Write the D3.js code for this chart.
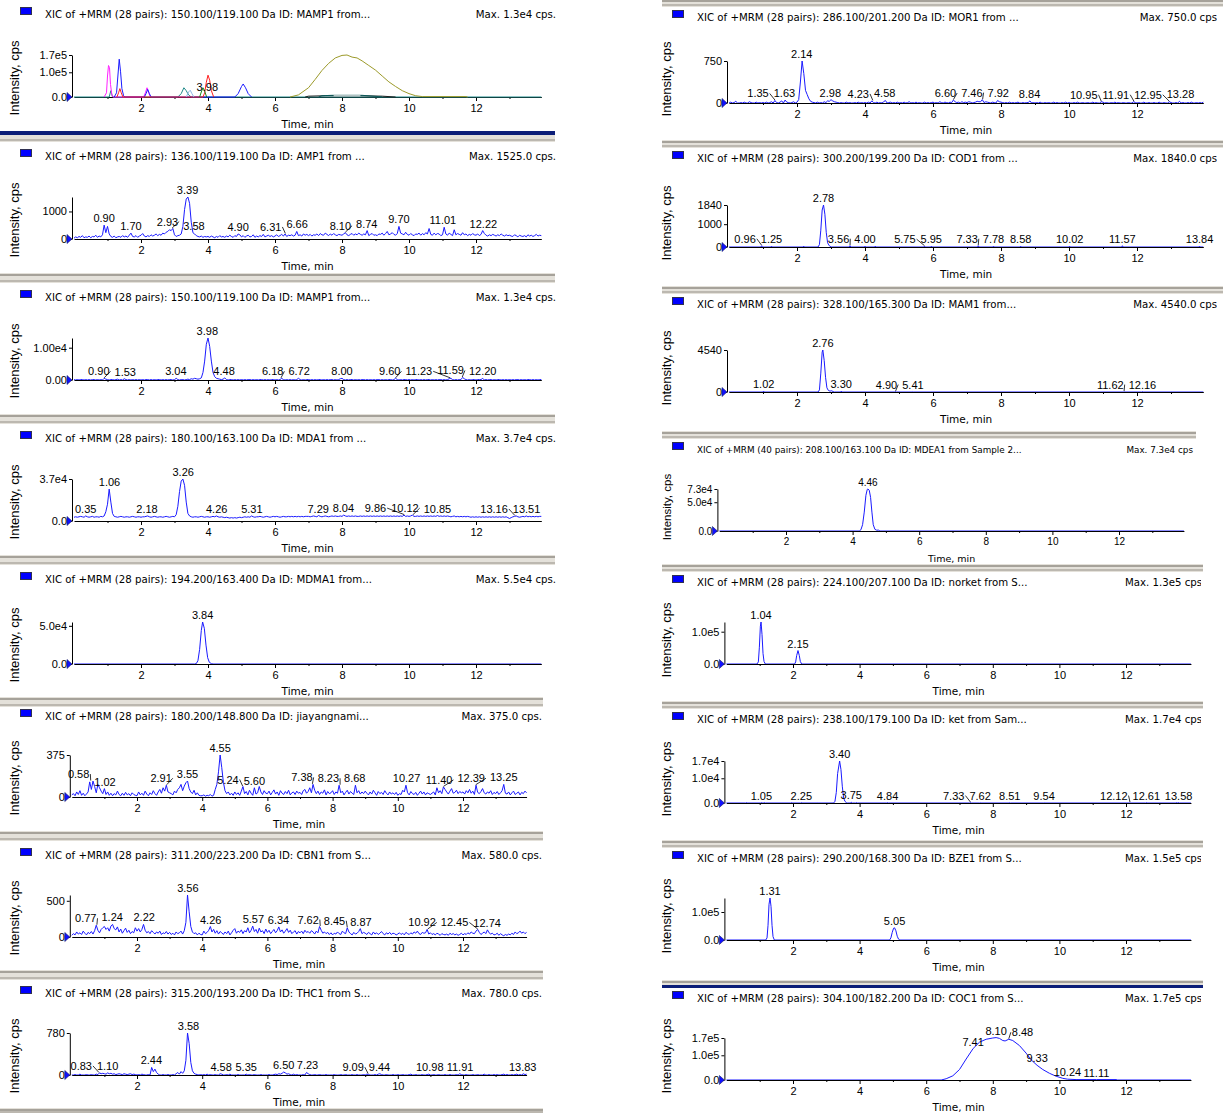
<!DOCTYPE html>
<html>
<head>
<meta charset="utf-8">
<script src="https://cdn.jsdelivr.net/npm/d3@7"></script>
<style>
body { margin: 0; background: #fff; }
svg { display: block; }
</style>
</head>
<body>
<svg id="chart" width="1223" height="1113"></svg>
<script>
// sampling step (min) of the dense traces
var STEP = 0.05;

// ---- panel titles ----
var titles = [
	"XIC of +MRM (28 pairs): 150.100/119.100 Da ID: MAMP1 from...",
	"XIC of +MRM (28 pairs): 136.100/119.100 Da ID: AMP1 from ...",
	"XIC of +MRM (28 pairs): 150.100/119.100 Da ID: MAMP1 from...",
	"XIC of +MRM (28 pairs): 180.100/163.100 Da ID: MDA1 from ...",
	"XIC of +MRM (28 pairs): 194.200/163.400 Da ID: MDMA1 from...",
	"XIC of +MRM (28 pairs): 180.200/148.800 Da ID: jiayangnami...",
	"XIC of +MRM (28 pairs): 311.200/223.200 Da ID: CBN1 from S...",
	"XIC of +MRM (28 pairs): 315.200/193.200 Da ID: THC1 from S...",
	"XIC of +MRM (28 pairs): 286.100/201.200 Da ID: MOR1 from ...",
	"XIC of +MRM (28 pairs): 300.200/199.200 Da ID: COD1 from ...",
	"XIC of +MRM (28 pairs): 328.100/165.300 Da ID: MAM1 from...",
	"XIC of +MRM (40 pairs): 208.100/163.100 Da ID: MDEA1 from Sample 2...",
	"XIC of +MRM (28 pairs): 224.100/207.100 Da ID: norket from S...",
	"XIC of +MRM (28 pairs): 238.100/179.100 Da ID: ket from Sam...",
	"XIC of +MRM (28 pairs): 290.200/168.300 Da ID: BZE1 from S...",
	"XIC of +MRM (28 pairs): 304.100/182.200 Da ID: COC1 from S..."
];
var maxTexts = ["Max. 1.3e4 cps.", "Max. 1525.0 cps.", "Max. 1.3e4 cps.", "Max. 3.7e4 cps.",
	"Max. 5.5e4 cps.", "Max. 375.0 cps.", "Max. 580.0 cps.", "Max. 780.0 cps.",
	"Max. 750.0 cps", "Max. 1840.0 cps", "Max. 4540.0 cps", "Max. 7.3e4 cps",
	"Max. 1.3e5 cps.", "Max. 1.7e4 cps.", "Max. 1.5e5 cps.", "Max. 1.7e5 cps."];

// top of the intensity axis (cps) for each panel
var yTops = [1.7e5, 1525, 1.3e4, 3.7e4, 5.5e4, 375, 580, 780, 750, 1840, 4540, 7.3e4, 1.3e5, 1.7e4, 1.5e5, 1.7e5];

// y tick values and their printed labels
var yTicks = [
	[[0, "0.0"], [1.0e5, "1.0e5"], [1.7e5, "1.7e5"]],
	[[0, "0"], [1000, "1000"]],
	[[0, "0.00"], [1.0e4, "1.00e4"]],
	[[0, "0.0"], [3.7e4, "3.7e4"]],
	[[0, "0.0"], [5.0e4, "5.0e4"]],
	[[0, "0"], [375, "375"]],
	[[0, "0"], [500, "500"]],
	[[0, "0"], [780, "780"]],
	[[0, "0"], [750, "750"]],
	[[0, "0"], [1000, "1000"], [1840, "1840"]],
	[[0, "0"], [4540, "4540"]],
	[[0, "0.0"], [5.0e4, "5.0e4"], [7.3e4, "7.3e4"]],
	[[0, "0.0"], [1.0e5, "1.0e5"]],
	[[0, "0.0"], [1.0e4, "1.0e4"], [1.7e4, "1.7e4"]],
	[[0, "0.0"], [1.0e5, "1.0e5"]],
	[[0, "0.0"], [1.0e5, "1.0e5"], [1.7e5, "1.7e5"]]
];
var xTicks = [2, 4, 6, 8, 10, 12];
var xMinorTicks = [1, 3, 5, 7, 9, 11, 13];

// ---- traces, intensity in % of the panel's axis top ----
// MAMP1 overlay (first panel): [time, %]
var mamp1Teal = [[0,0],[1.05,0],[1.10,15],[1.15,0],[3.10,0],[3.20,8],[3.28,22],[3.35,15],[3.42,5],[3.50,0],[13.95,0]];
var mamp1Magenta = [[0.90,0],[0.97,10],[1.00,50],[1.03,75],[1.06,70],[1.09,30],[1.13,5],[1.17,0],[2.08,0],[2.13,10],[2.18,22],[2.23,10],[2.28,0]];
var mamp1Blue = [[1.20,0],[1.27,10],[1.31,50],[1.35,90],[1.39,60],[1.43,20],[1.48,3],[1.52,0],[2.10,0],[2.15,8],[2.20,18],[2.25,8],[2.30,0],[4.80,0],[4.90,8],[5.00,25],[5.05,31],[5.12,22],[5.20,8],[5.30,0]];
var mamp1Red = [[1.28,0],[1.33,10],[1.37,20],[1.41,10],[1.46,0],[3.85,0],[3.90,10],[3.95,35],[4.00,52],[4.05,40],[4.10,15],[4.17,0]];
var mamp1Sky = [[3.35,0],[3.42,12],[3.47,16],[3.52,8],[3.58,0]];
var mamp1Green = [[3.75,0],[3.80,12],[3.85,22],[3.90,14],[3.96,0]];
var mamp1Olive = [[6.45,0],[6.70,5],[7.00,22],[7.20,42],[7.40,63],[7.60,80],[7.80,93],[8.00,99],[8.15,100],[8.30,95],[8.45,93],[8.60,86],[8.80,75],[9.00,64],[9.20,50],[9.40,36],[9.60,25],[9.80,15],[10.00,8],[10.20,3],[10.40,1],[11.70,1],[11.75,0]];
var mamp1Black = [[6.90,0],[7.00,2],[7.50,3],[8.50,3],[9.20,2],[9.60,0]];
var mamp1DarkTeal = [[7.30,0],[7.40,3],[7.70,4],[8.60,4],[9.10,1],[9.20,0]];
var mamp1Pale = [[7.75,3],[8.55,3]];

// dense traces, one value every STEP min, 20 values per minute
var amp1Trace = [
	2,5,3,6,4,8,3,5,4,7,3,6,5,9,4,7,5,10,33,15,
	30,12,6,4,7,3,5,6,4,8,5,7,4,9,14,6,5,8,4,7,
	9,13,7,5,8,6,10,7,9,12,8,11,9,14,12,16,18,22,20,25,
	10,6,8,9,12,30,70,95,100,85,40,15,12,8,6,5,7,4,6,5,
	6,4,7,5,3,6,4,8,5,6,4,7,5,9,6,4,8,6,12,10,
	5,8,4,7,9,5,6,10,4,7,5,8,6,11,5,7,9,6,8,5,
	7,10,6,8,11,7,12,6,9,8,10,7,9,18,8,10,7,12,9,11,
	8,11,7,10,9,12,8,13,10,9,14,11,8,12,9,13,10,8,11,10,
	9,12,15,10,8,11,13,9,12,10,14,11,9,12,10,20,8,11,13,9,
	10,8,12,11,14,9,13,18,10,12,15,11,9,13,30,14,12,10,16,11,
	9,13,10,8,12,11,14,9,13,10,15,12,25,11,9,14,10,13,12,8,
	10,28,12,9,14,11,8,22,10,13,11,9,15,10,12,8,11,9,13,10,
	9,12,8,11,20,13,9,7,10,8,11,9,7,10,8,12,9,7,10,8,
	9,7,6,10,8,5,9,7,6,8,5,10,7,9,6,8,11,7,9,8
];
var mamp1Trace = [
	1,0,1,0,1,1,0,1,0,1,0,1,1,0,1,0,1,0,4,2,
	1,0,1,1,0,1,2,0,1,0,3,1,0,1,0,1,0,1,0,1,
	0,1,0,1,1,0,1,0,1,0,1,1,0,1,0,1,0,1,1,0,
	1,4,1,0,1,1,0,1,2,1,3,2,4,3,2,3,5,18,45,85,
	100,80,45,18,8,4,3,2,1,2,5,1,0,1,1,0,1,0,1,0,
	1,0,1,0,1,1,0,1,0,1,0,1,1,0,1,0,1,0,1,1,
	0,1,0,1,4,1,0,1,0,1,0,1,0,1,4,1,0,1,0,1,
	1,0,1,0,1,0,1,1,0,1,0,1,0,1,1,0,1,0,1,3,
	4,1,0,1,0,1,1,0,1,0,1,0,1,1,0,1,0,1,0,1,
	0,1,1,0,1,0,1,0,1,1,0,1,4,1,0,1,0,1,1,0,
	1,0,1,0,1,1,0,1,0,1,0,1,1,0,1,0,1,0,1,1,
	0,1,0,1,3,4,1,0,1,0,1,1,6,3,1,0,1,0,1,1,
	0,1,1,1,4,0,1,0,1,1,0,1,0,1,1,0,1,0,1,0,
	1,0,1,0,1,1,0,1,0,1,0,1,1,0,1,0,1,0,1,1
];
var mda1Trace = [
	9,10,9,10,11,10,9,12,10,9,10,11,9,10,10,9,11,10,12,22,
	40,76,45,18,11,10,9,10,11,10,9,10,10,9,10,11,10,9,10,10,
	9,10,10,11,12,10,9,10,11,10,9,10,10,9,10,11,10,9,10,11,
	10,15,35,70,95,100,85,45,18,12,10,9,10,10,9,10,11,10,9,10,
	10,9,10,11,10,12,10,9,10,9,8,9,8,7,8,7,8,7,8,9,
	8,9,10,9,10,9,12,10,9,10,10,11,10,9,10,11,10,9,10,11,
	10,11,10,9,10,11,10,10,11,10,11,10,11,10,11,10,11,10,11,11,
	11,10,11,12,11,10,13,11,10,11,12,11,10,11,12,11,12,11,11,12,
	11,14,12,11,12,11,12,11,12,11,11,12,11,12,11,12,11,12,11,12,
	11,12,11,12,11,12,11,12,11,12,11,12,11,12,11,12,11,14,11,12,
	11,12,14,11,11,12,11,12,11,12,11,12,11,12,11,12,11,13,11,12,
	11,12,11,12,11,10,11,12,10,11,10,11,10,11,10,11,10,9,10,9,
	10,9,10,9,10,9,10,9,10,9,10,9,10,9,10,9,10,9,10,8,
	6,8,10,11,12,10,9,10,11,10,12,10,11,10,11,10,11,10,11,11
];
var mdma1Trace = [[0,0],[3.60,0],[3.65,1],[3.70,8],[3.75,35],[3.80,80],[3.84,100],[3.89,85],[3.94,45],[3.99,15],[4.04,4],[4.10,1],[4.15,0],[13.95,0]];
var jiayangTrace = [
	5,8,3,12,6,15,4,9,3,7,12,36,18,38,25,10,30,22,14,8,
	20,6,12,4,9,3,8,5,14,6,3,9,4,11,5,8,3,10,6,4,
	3,12,5,9,4,14,7,3,10,6,15,8,4,12,18,9,22,14,28,12,
	10,8,5,14,10,18,22,30,15,26,34,38,20,12,8,16,5,10,4,3,
	3,5,2,4,3,6,2,4,18,30,60,100,70,35,15,8,12,5,9,4,
	12,6,10,4,14,25,8,13,5,16,9,4,22,7,10,25,12,6,15,9,
	8,14,5,11,17,7,12,4,15,9,6,13,8,16,5,10,12,6,14,9,
	11,6,15,18,9,13,22,10,30,16,8,14,6,12,9,17,5,13,8,10,
	15,6,12,9,28,10,14,5,11,16,7,13,9,6,28,10,15,7,12,8,
	14,9,5,12,7,16,10,4,13,8,11,6,15,9,5,12,7,10,6,11,
	4,8,6,16,12,28,10,5,13,8,6,11,4,9,14,7,12,5,10,8,
	6,9,12,5,22,10,15,8,24,18,12,7,14,20,9,11,16,8,13,10,
	12,7,15,10,18,9,14,6,28,11,8,13,20,10,7,12,9,15,6,11,
	8,13,6,10,15,30,9,7,12,5,10,14,6,9,12,5,11,8,14,10
];
var cbn1Trace = [
	4,8,5,12,7,10,6,14,9,5,11,8,13,7,15,28,16,10,18,22,
	25,18,22,14,26,30,20,17,24,12,19,9,15,21,11,16,8,13,10,22,
	14,20,12,18,30,16,10,13,8,15,11,7,12,9,14,6,10,8,13,7,
	11,6,9,5,12,8,10,14,7,15,35,100,60,25,12,8,10,5,9,6,
	5,14,8,11,16,25,12,18,9,15,7,13,10,6,12,8,14,5,10,16,
	20,9,14,11,17,8,15,12,22,10,16,26,13,18,9,21,12,15,8,19,
	11,16,8,13,18,10,15,24,12,17,9,14,20,11,16,8,12,15,7,13,
	10,14,8,16,11,13,9,15,12,7,14,10,25,16,9,12,8,11,6,10,
	5,9,7,12,8,6,14,10,8,22,12,8,5,11,7,9,13,20,8,11,
	9,6,11,8,5,12,7,10,6,9,13,8,5,10,7,11,6,9,8,5,
	7,10,6,9,5,11,8,6,10,7,12,9,14,8,6,11,9,10,18,7,
	10,6,8,5,9,7,4,8,6,5,7,4,9,6,8,5,7,4,6,9,
	5,8,6,10,7,12,9,8,14,18,11,6,9,12,8,17,10,7,9,5,
	6,9,4,8,5,3,6,4,7,5,9,6,12,8,10,14,9,12,8,11
];
var thc1Trace = [
	0,0,1,0,0,2,0,0,0,1,0,0,1,0,0,2,1,5,3,4,
	3,2,5,3,4,2,3,1,2,3,2,1,3,2,1,2,3,1,2,1,
	0,1,0,2,1,0,0,1,0,18,8,14,6,2,0,0,1,0,0,1,
	0,0,1,0,3,6,2,8,4,10,35,100,75,30,10,4,2,1,0,1,
	0,1,0,2,0,1,0,0,1,0,0,3,2,0,0,1,0,2,0,0,
	0,0,1,0,0,0,0,2,0,1,0,0,1,0,0,0,1,0,0,0,
	0,1,0,0,1,2,1,3,2,4,7,5,2,3,1,0,2,0,1,0,
	0,0,1,0,6,3,1,0,0,1,0,0,1,0,0,0,1,0,0,0,
	0,1,0,0,0,1,0,0,1,0,0,0,1,0,0,1,0,0,0,1,
	0,2,1,0,0,0,1,0,2,3,1,0,0,1,0,0,0,1,0,0,
	1,0,0,1,0,0,0,1,2,0,0,1,0,0,0,1,0,0,1,2,
	0,0,1,0,0,1,0,0,0,1,0,0,1,0,0,0,1,0,3,1,
	0,0,1,0,0,0,1,0,0,1,0,0,0,2,0,0,1,0,0,1,
	0,1,0,0,1,2,0,1,0,0,1,0,1,2,0,1,0,3,1,2
];
var mor1Trace = [
	0,2,0,1,4,0,0,1,0,2,0,0,3,1,0,0,2,0,1,0,
	1,0,2,0,1,3,0,6,1,0,2,5,0,7,2,1,0,1,3,0,
	2,8,50,100,70,30,20,10,4,2,1,0,2,0,1,0,3,1,5,4,
	8,5,3,2,1,0,1,0,0,2,0,1,0,0,1,0,2,0,1,0,
	1,0,2,0,5,1,0,2,0,1,0,3,6,0,1,2,0,1,0,2,
	0,1,0,2,0,1,3,0,1,0,2,0,1,0,0,2,0,1,0,1,
	2,0,1,0,3,1,0,2,1,0,2,1,7,3,1,2,0,3,1,2,
	1,3,2,0,1,2,4,3,3,8,1,3,2,1,0,2,1,0,6,3,
	2,1,0,1,0,2,0,1,0,1,2,0,0,1,0,1,1,5,0,1,
	0,1,0,2,0,0,1,0,1,0,0,2,0,1,0,0,1,0,2,0,
	1,0,0,1,0,2,0,0,1,0,0,1,0,0,2,0,1,0,0,3,
	2,0,1,0,0,1,0,2,0,1,0,0,1,0,0,1,0,0,3,1,
	0,1,0,0,2,0,0,1,0,0,1,0,0,2,0,0,1,0,0,3,
	1,0,0,1,0,4,0,1,0,0,1,0,2,0,0,1,0,1,0,2
];
// sparse traces: [time, %]
var cod1Trace = [[0,0],[0.94,0],[0.96,3],[0.98,0],[1.23,0],[1.25,2],[1.27,0],[2.18,0],[2.20,2],[2.22,0],[2.62,0],[2.66,6],[2.70,40],[2.74,88],[2.78,100],[2.82,78],[2.86,35],[2.90,10],[2.95,3],[3.00,0],[3.54,0],[3.56,3],[3.58,0],[3.98,0],[4.00,2],[4.02,0],[4.28,0],[4.30,2],[4.32,0],[5.73,0],[5.75,2],[5.77,0],[5.93,0],[5.95,2],[5.97,0],[7.31,0],[7.33,3],[7.35,0],[7.76,0],[7.78,2],[7.80,0],[8.56,0],[8.58,2],[8.60,0],[10.00,0],[10.02,2],[10.04,0],[11.55,0],[11.57,3],[11.59,0],[13.82,0],[13.84,2],[13.86,0],[13.95,0]];
var mam1Trace = [[0,0],[1.00,0],[1.02,2],[1.04,0],[2.62,0],[2.66,5],[2.70,45],[2.74,95],[2.76,100],[2.80,75],[2.84,35],[2.88,10],[2.92,4],[2.97,2],[3.02,3],[3.06,1],[3.10,0],[3.28,0],[3.30,2],[3.32,0],[4.88,0],[4.90,1],[4.92,0],[5.39,0],[5.41,1],[5.43,0],[11.60,0],[11.62,1],[11.64,0],[12.14,0],[12.16,1],[12.18,0],[13.95,0]];
var mdea1Trace = [[0,0],[4.20,0],[4.25,3],[4.30,15],[4.35,45],[4.40,85],[4.44,99],[4.46,100],[4.50,97],[4.54,80],[4.58,45],[4.62,15],[4.67,4],[4.72,2],[4.78,2],[4.82,0],[13.95,0]];
var norketTrace = [[0,0],[0.92,0],[0.96,5],[0.99,40],[1.02,90],[1.04,100],[1.07,70],[1.10,25],[1.13,6],[1.17,0],[2.05,0],[2.08,5],[2.11,20],[2.15,32],[2.19,20],[2.22,6],[2.26,0],[13.95,0]];
var ketTrace = [[0,0],[0.58,0],[0.60,1],[0.62,0],[1.03,0],[1.05,1],[1.07,0],[1.13,0],[1.15,1],[1.17,0],[1.83,0],[1.85,1],[1.87,0],[1.93,0],[1.95,1],[1.97,0],[2.23,0],[2.25,1],[2.27,0],[2.73,0],[2.75,1],[2.77,0],[3.22,0],[3.26,4],[3.30,25],[3.34,70],[3.40,100],[3.44,80],[3.48,40],[3.52,12],[3.56,4],[3.60,1],[3.64,0],[3.73,0],[3.75,2],[3.78,0],[3.88,0],[3.90,1],[3.93,0],[4.82,0],[4.84,1],[4.86,0],[7.31,0],[7.33,1],[7.35,0],[7.60,0],[7.62,1],[7.64,0],[8.49,0],[8.51,1],[8.53,0],[9.52,0],[9.54,1],[9.56,0],[12.10,0],[12.12,1],[12.14,0],[12.59,0],[12.61,1],[12.63,0],[13.50,0],[13.52,1],[13.54,0],[13.56,1],[13.58,1],[13.60,0],[13.95,0]];
var bze1Trace = [[0,0],[1.18,0],[1.22,5],[1.25,35],[1.28,85],[1.31,100],[1.34,80],[1.37,35],[1.40,8],[1.44,0],[4.90,0],[4.94,5],[4.98,18],[5.02,28],[5.05,29],[5.09,22],[5.13,9],[5.17,2],[5.21,0],[13.95,0]];
var coc1Trace = [[0,0],[6.45,0],[6.60,3],[6.80,10],[7.00,25],[7.20,50],[7.41,75],[7.60,90],[7.80,97],[8.00,100],[8.10,101],[8.20,99],[8.30,94],[8.37,93],[8.48,97],[8.60,94],[8.80,82],[9.00,64],[9.15,48],[9.33,35],[9.50,25],[9.70,16],[9.90,9],[10.10,4],[10.24,2],[10.50,1],[11.11,1],[11.70,1],[11.75,0],[13.95,0]];

// labelled peaks: [retention time, apex %]
var mamp1OvPeaks = [[3.98,7]];
var amp1Peaks = [[0.90,33],[1.70,14],[2.93,25],[3.39,100],[3.58,15],[4.90,12],[6.31,12],[6.66,18],[8.10,15],[8.74,20],[9.70,30],[11.01,28],[12.22,20]];
var mamp1Peaks = [[0.90,4],[1.53,3],[3.04,4],[3.98,100],[4.48,5],[6.18,4],[6.72,4],[8.00,4],[9.60,4],[11.23,4],[11.59,6],[12.20,4]];
var mda1Peaks = [[0.35,12],[1.06,76],[2.18,12],[3.26,100],[4.26,12],[5.31,12],[7.29,13],[8.04,14],[9.86,14],[10.12,14],[10.85,13],[13.16,12],[13.51,12]];
var mdma1Peaks = [[3.84,100]];
var jiayangPeaks = [[0.58,38],[1.02,20],[2.91,28],[3.55,38],[4.55,100],[5.24,25],[5.60,22],[7.38,30],[8.23,28],[8.68,28],[10.27,28],[11.40,24],[12.39,28],[13.25,30]];
var cbn1Peaks = [[0.77,28],[1.24,30],[2.22,30],[3.56,100],[4.26,25],[5.57,26],[6.34,24],[7.62,25],[8.45,22],[8.87,20],[10.92,18],[12.45,18],[12.74,17]];
var thc1Peaks = [[0.83,5],[1.10,5],[2.44,18],[3.58,100],[4.58,3],[5.35,2],[6.50,7],[7.23,6],[9.09,2],[9.44,3],[10.98,2],[11.91,3],[13.83,3]];
var mor1Peaks = [[1.35,6],[1.63,7],[2.14,100],[2.98,8],[4.23,5],[4.58,6],[6.60,7],[7.46,8],[7.92,6],[8.84,5],[10.95,3],[11.91,3],[12.95,3],[13.28,4]];
var cod1Peaks = [[0.96,3],[1.25,2],[2.78,100],[3.56,3],[4.00,2],[5.75,2],[5.95,2],[7.33,3],[7.78,2],[8.58,2],[10.02,2],[11.57,3],[13.84,2]];
var mam1Peaks = [[1.02,2],[2.76,100],[3.30,3],[4.90,1],[5.41,1],[11.62,1],[12.16,1]];
var mdea1Peaks = [[4.46,100]];
var norketPeaks = [[1.04,100],[2.15,32]];
var ketPeaks = [[1.05,1],[2.25,1],[3.40,100],[3.75,2],[4.84,1],[7.33,1],[7.62,1],[8.51,1],[9.54,1],[12.12,1],[12.61,1],[13.58,1]];
var bze1Peaks = [[1.31,100],[5.05,29]];
var coc1Peaks = [[7.41,75],[8.10,101],[8.48,97],[9.33,35],[10.24,2],[11.11,1]];

function dense(a) { return a.map(function(v, i) { return [i * STEP, v]; }); }
var BLUE = "#1a1aff";

var series = [
	[{pts: mamp1Teal, c: "#1f8a8a"}, {pts: mamp1Magenta, c: "#ff20ff"}, {pts: mamp1Blue, c: "#1a1aff"},
	 {pts: mamp1Red, c: "#ff2020"}, {pts: mamp1Sky, c: "#8cb4e6"}, {pts: mamp1Green, c: "#1a8a1a"},
	 {pts: mamp1Olive, c: "#9c9a2a"}, {pts: mamp1Black, c: "#202020"}, {pts: mamp1DarkTeal, c: "#0a5a5a"},
	 {pts: mamp1Pale, c: "#e4e4e4"}],
	[{pts: dense(amp1Trace), c: BLUE}],
	[{pts: dense(mamp1Trace), c: BLUE}],
	[{pts: dense(mda1Trace), c: BLUE}],
	[{pts: mdma1Trace, c: BLUE}],
	[{pts: dense(jiayangTrace), c: BLUE}],
	[{pts: dense(cbn1Trace), c: BLUE}],
	[{pts: dense(thc1Trace), c: BLUE}],
	[{pts: dense(mor1Trace), c: BLUE}],
	[{pts: cod1Trace, c: BLUE}],
	[{pts: mam1Trace, c: BLUE}],
	[{pts: mdea1Trace, c: BLUE}],
	[{pts: norketTrace, c: BLUE}],
	[{pts: ketTrace, c: BLUE}],
	[{pts: bze1Trace, c: BLUE}],
	[{pts: coc1Trace, c: BLUE}]
];
var peaks = [mamp1OvPeaks, amp1Peaks, mamp1Peaks, mda1Peaks, mdma1Peaks, jiayangPeaks, cbn1Peaks, thc1Peaks,
	mor1Peaks, cod1Peaks, mam1Peaks, mdea1Peaks, norketPeaks, ketPeaks, bze1Peaks, coc1Peaks];

// ---- layout of the 16 panes ----
var layout = [
	{col: 0, hy: 14,  base: 97,   x0: 74,    ppm: 33.5, clip: 560,  maxX: 556, anchor: "end", bandR: 555, onTop: true},
	{col: 0, hy: 156, base: 239,  x0: 74,    ppm: 33.5, clip: 560,  maxX: 556, anchor: "end", bandR: 555, navy: "top"},
	{col: 0, hy: 297, base: 380,  x0: 74,    ppm: 33.5, clip: 560,  maxX: 556, anchor: "end", bandR: 555},
	{col: 0, hy: 438, base: 521,  x0: 74,    ppm: 33.5, clip: 560,  maxX: 556, anchor: "end", bandR: 555},
	{col: 0, hy: 579, base: 664,  x0: 74,    ppm: 33.5, clip: 560,  maxX: 556, anchor: "end", bandR: 555},
	{col: 0, hy: 716, base: 797,  x0: 71.8,  ppm: 32.6, clip: 560,  maxX: 542, anchor: "end", bandR: 543},
	{col: 0, hy: 855, base: 937,  x0: 71.8,  ppm: 32.6, clip: 560,  maxX: 542, anchor: "end", bandR: 543},
	{col: 0, hy: 993, base: 1075, x0: 71.8,  ppm: 32.6, clip: 560,  maxX: 542, anchor: "end", bandR: 543},
	{col: 1, hy: 17,  base: 103,  x0: 729,   ppm: 34,   clip: 1217, maxX: 1217, anchor: "end", bandR: 1223},
	{col: 1, hy: 158, base: 247,  x0: 729,   ppm: 34,   clip: 1217, maxX: 1217, anchor: "end", bandR: 1223},
	{col: 1, hy: 304, base: 392,  x0: 729,   ppm: 34,   clip: 1217, maxX: 1217, anchor: "end", bandR: 1223},
	{col: 1, hy: 449, base: 531,  x0: 719.4, ppm: 33.3, clip: 1196, maxX: 1193, anchor: "end", bandR: 1196, small: true},
	{col: 1, hy: 582, base: 664,  x0: 726.4, ppm: 33.3, clip: 1201, maxX: 1125, anchor: "start", bandR: 1203},
	{col: 1, hy: 719, base: 803,  x0: 726.4, ppm: 33.3, clip: 1201, maxX: 1125, anchor: "start", bandR: 1203},
	{col: 1, hy: 858, base: 940,  x0: 726.4, ppm: 33.3, clip: 1201, maxX: 1125, anchor: "start", bandR: 1203},
	{col: 1, hy: 998, base: 1080, x0: 726.4, ppm: 33.3, clip: 1201, maxX: 1125, anchor: "start", bandR: 1203, navy: "bottom"}
];

var FONT = "'Liberation Sans', Arial, sans-serif";
var HFONT = "'DejaVu Sans', Verdana, sans-serif";
var svg = d3.select("#chart").attr("font-family", FONT);
var defs = svg.append("defs");
var TEND = 13.95, PH = 42;

layout.forEach(function(p, i) {
	var colLeft = p.col === 0 ? 0 : 652;
	var hf = p.small ? 8.8 : 10.2, tf = p.small ? 10 : 11;
	var yTop = yTops[i];

	defs.append("clipPath").attr("id", "cp" + i).append("rect")
		.attr("x", colLeft).attr("y", p.hy - 14)
		.attr("width", p.clip - colLeft).attr("height", p.base + 40 - (p.hy - 14));
	var g = svg.append("g").attr("clip-path", "url(#cp" + i + ")");

	var x = d3.scaleLinear().domain([0, TEND]).range([p.x0, p.x0 + TEND * p.ppm]);
	var y = d3.scaleLinear().domain([0, yTop]).range([p.base, p.base - PH]);
	var line = d3.line()
		.x(function(d) { return x(d[0]); })
		.y(function(d) { return y(d[1] * yTop / 100); });

	// header
	g.append("rect").attr("x", colLeft + 20.5).attr("y", p.hy - 6.5)
		.attr("width", 11).attr("height", 7).attr("fill", "#0000ff").attr("stroke", "#303050");
	g.append("text").attr("x", colLeft + 45).attr("y", p.hy + 3.5).attr("font-family", HFONT)
		.attr("font-size", hf).attr("fill", "#000").text(titles[i]);
	g.append("text").attr("x", p.maxX).attr("y", p.hy + 3.5).attr("text-anchor", p.anchor)
		.attr("font-family", HFONT).attr("font-size", hf).attr("fill", "#000").text(maxTexts[i]);

	// y title
	var ylx = p.col === 0 ? 18.5 : 670.5;
	var yly = p.col === 0 ? p.base - 19 : p.base - 24;
	g.append("text").attr("transform", "translate(" + ylx + "," + yly + ") rotate(-90)")
		.attr("text-anchor", "middle").attr("font-size", p.small ? 11.5 : 13).attr("fill", "#000")
		.text("Intensity, cps");

	function drawTraces() {
		series[i].forEach(function(s) {
			g.append("path").datum(s.pts).attr("d", line)
				.attr("fill", "none").attr("stroke", s.c).attr("stroke-width", 1);
		});
	}
	function drawAxes() {
		var xa = g.append("g").attr("transform", "translate(0," + p.base + ")")
			.call(d3.axisBottom(x).tickValues(xTicks).tickFormat(d3.format("d"))
				.tickSize(4).tickSizeOuter(0));
		xa.attr("font-family", FONT).attr("font-size", tf);
		xa.selectAll("text").attr("fill", "#000");
		xa.select(".domain").attr("stroke", "#000");
		var xm = g.append("g").attr("transform", "translate(0," + p.base + ")")
			.call(d3.axisBottom(x).tickValues(xMinorTicks).tickFormat("").tickSize(2).tickSizeOuter(0));
		xm.select(".domain").remove();

		var tk = yTicks[i];
		var ya = g.append("g").attr("transform", "translate(" + (p.x0 - 2) + ",0)")
			.call(d3.axisLeft(y).tickValues(tk.map(function(t) { return t[0]; }))
				.tickFormat(function(d, j) { return tk[j][1]; })
				.tickSize(3).tickSizeOuter(0).tickPadding(2));
		ya.attr("font-family", FONT).attr("font-size", tf);
		ya.selectAll("text").attr("fill", "#000");
		ya.select(".domain").attr("stroke", "#000");

		var ax = p.x0 - 2;
		g.append("path")
			.attr("d", "M" + (ax - 5) + "," + (p.base - 4.5) + "L" + ax + "," + p.base + "L" + (ax - 5) + "," + (p.base + 4.5) + "Z")
			.attr("fill", "#1010ff").attr("stroke", "#202060").attr("stroke-width", 0.6);
	}
	if (p.onTop) { drawAxes(); drawTraces(); } else { drawTraces(); drawAxes(); }

	g.append("text").attr("x", p.x0 + TEND * p.ppm / 2).attr("y", p.base + 31)
		.attr("text-anchor", "middle").attr("font-family", HFONT).attr("font-size", p.small ? 9.5 : 10.5)
		.attr("fill", "#000").text("Time, min");

	// peak labels: tall peaks first, then the small ones right to left,
	// sliding sideways with a short leader when they collide
	var boxes = [];
	var lg = g.append("g").attr("font-size", tf).attr("fill", "#000");
	var big = peaks[i].filter(function(pk) { return pk[1] >= 40; }).sort(function(a, b) { return b[1] - a[1]; });
	var rest = peaks[i].filter(function(pk) { return pk[1] < 40; }).sort(function(a, b) { return b[0] - a[0]; });
	big.concat(rest).forEach(function(pk) {
		var px = x(pk[0]), py = y(pk[1] * yTop / 100);
		var by = py - 3;
		var t = lg.append("text").attr("y", by).text(pk[0].toFixed(2));
		var w = t.node().getComputedTextLength();
		var b = {x0: px - w / 2, x1: px + w / 2, y0: by - 9, y1: by + 1};
		var dir = 0;
		for (var k = 0; k < 12; k++) {
			var o = boxes.find(function(q) { return b.x1 > q.x0 - 1 && b.x0 < q.x1 + 1 && b.y1 > q.y0 && b.y0 < q.y1; });
			if (!o) break;
			if (dir === 0) dir = (px >= (o.x0 + o.x1) / 2) ? 1 : -1;
			if (dir > 0) { b.x0 = o.x1 + 5; b.x1 = b.x0 + w; }
			else { b.x1 = o.x0 - 5; b.x0 = b.x1 - w; }
		}
		t.attr("x", b.x0);
		boxes.push(b);
		var shift = (b.x0 + b.x1) / 2 - px;
		if (Math.abs(shift) > 3) {
			var ex = shift > 0 ? b.x0 - 1 : b.x1 + 1;
			lg.append("line").attr("x1", ex).attr("y1", by - 4).attr("x2", px).attr("y2", py - 0.5)
				.attr("stroke", "#000").attr("stroke-width", 0.8);
		}
	});
});

// ---- pane separators ----
function band(x0, x1, yb, h, navy) {
	svg.append("rect").attr("x", x0).attr("y", yb).attr("width", x1 - x0).attr("height", h).attr("fill", "#e4e1da");
	svg.append("rect").attr("x", x0).attr("y", yb + 1).attr("width", x1 - x0).attr("height", 2).attr("fill", "#a6a29a");
	svg.append("rect").attr("x", x0).attr("y", yb + h - 3).attr("width", x1 - x0).attr("height", 2).attr("fill", "#bcb8b0");
	if (navy === "top") svg.append("rect").attr("x", x0).attr("y", yb - 1).attr("width", x1 - x0).attr("height", 4).attr("fill", "#0c1e78");
	if (navy === "bottom") svg.append("rect").attr("x", x0).attr("y", yb + h - 3).attr("width", x1 - x0).attr("height", 3).attr("fill", "#0c1e78");
}
layout.forEach(function(p, i) {
	if (p.col === 0) {
		if (i > 0) band(0, p.bandR, Math.max(p.hy - 24, layout[i - 1].base + 33), 10, p.navy);
	} else {
		band(662, p.bandR, p.hy - 18, 8, p.navy);
	}
});
band(0, 543, 1108, 6);
</script>
</body>
</html>
